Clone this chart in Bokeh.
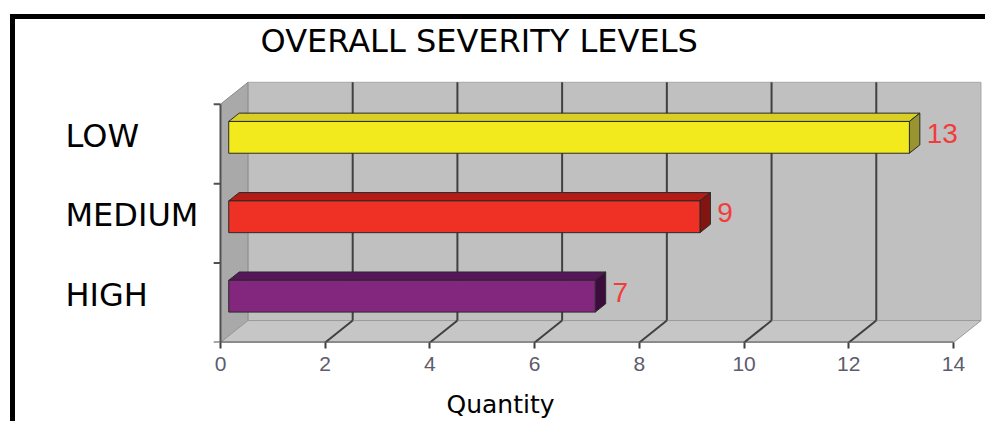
from bokeh.plotting import figure
from bokeh.models import Range1d, FixedTicker, ColumnDataSource
from bokeh.embed import file_html
from bokeh.resources import INLINE
from bokeh.core.properties import value

# ---------------- data ----------------
categories = ["HIGH", "MEDIUM", "LOW"]      # bottom to top
counts = [7, 9, 13]
x_ticks = [0, 2, 4, 6, 8, 10, 12, 14]
title_text = "OVERALL SEVERITY LEVELS"
x_title = "Quantity"

# ---------------- styles ----------------
front_colors = ["#82267e", "#ee3124", "#f2ea1c"]
top_colors = ["#58165a", "#b41c16", "#d8d022"]
side_colors = ["#3c0c3c", "#841410", "#9a9430"]
label_color = "#f23c3c"

X_MAX = x_ticks[-1]
N = len(categories)
DX, DY = 0.525, 0.276        # depth of the 3-D box in data units
F0, F1 = 0.30, 0.68          # bar front / back depth fraction
H = 0.20                     # half bar height (category units)

p = figure(width=970, height=402, output_backend="svg", toolbar_location=None,
           x_range=Range1d(-3.915, 14.611), y_range=Range1d(0, 3.5),
           min_border_left=0, min_border_right=0, min_border_top=44,
           min_border_bottom=79, tools="")
p.styles = {"margin-left": "15px", "margin-top": "19px",
            "box-shadow": "-5px 0px 0px 0px #000000, 0px -5px 0px 0px #000000, "
                          "-5px -5px 0px 0px #000000"}
p.outline_line_color = None
p.grid.visible = False
p.yaxis.visible = False
p.background_fill_color = "white"
p.border_fill_color = "white"

p.title.text = title_text
p.title.text_font = "DejaVu Sans"
p.title.text_font_size = "32px"
p.title.text_font_style = "normal"
p.title.text_color = "#000000"
p.title.align = "left"
p.title.vertical_align = "top"
p.title.offset = 245
p.title.standoff = 5

# walls
p.patch([DX, X_MAX + DX, X_MAX + DX, DX], [DY, DY, N + DY, N + DY],
        fill_color="#c0c0c0", line_color="#a8a8a8", line_width=1)
p.patch([0, DX, DX, 0], [0, DY, N + DY, N],
        fill_color="#a9a9a9", line_color="#8a8a8a", line_width=1)
p.patch([0, X_MAX, X_MAX + DX, DX], [0, 0, DY, DY],
        fill_color="#c6c6c6", line_color="#9a9a9a", line_width=1)

inner = [t for t in x_ticks if 0 < t < X_MAX]
p.segment(x0=[t + DX for t in inner], y0=DY, x1=[t + DX for t in inner], y1=N + DY,
          line_color="#404040", line_width=2)
p.segment(x0=inner, y0=0, x1=[t + DX for t in inner], y1=DY,
          line_color="#404040", line_width=2)
p.segment(x0=[0], y0=[0], x1=[X_MAX], y1=[0], line_color="#505050", line_width=2)
p.segment(x0=[0], y0=[0], x1=[0], y1=[N], line_color="#505050", line_width=2)
p.segment(x0=-0.13, y0=list(range(N + 1)), x1=0, y1=list(range(N + 1)),
          line_color="#505050", line_width=2)

# bars
a0, b0 = F0 * DX, F0 * DY
a1, b1 = F1 * DX, F1 * DY
fx, fy, tx, ty, sx, sy = [], [], [], [], [], []
for i, v in enumerate(counts):
    yc = i + 0.5
    lo, hi = yc - H, yc + H
    fx.append([a0, v + a0, v + a0, a0]); fy.append([lo + b0, lo + b0, hi + b0, hi + b0])
    tx.append([a0, v + a0, v + a1, a1]); ty.append([hi + b0, hi + b0, hi + b1, hi + b1])
    sx.append([v + a0, v + a1, v + a1, v + a0]); sy.append([lo + b0, lo + b1, hi + b1, hi + b0])

p.patches(tx, ty, fill_color=top_colors, line_color="#2a2a2a", line_width=1)
p.patches(sx, sy, fill_color=side_colors, line_color="#2a2a2a", line_width=1)
p.patches(fx, fy, fill_color=front_colors, line_color="#2a2a2a", line_width=1)

# value labels
lab = ColumnDataSource(dict(x=[v + a1 + 0.13 for v in counts],
                            y=[i + 0.5 + (b0 + b1) / 2 for i in range(N)],
                            t=[str(v) for v in counts]))
p.text(x="x", y="y", text="t", source=lab, text_font=value("Liberation Sans"),
       text_font_size="28px", text_color=label_color, text_baseline="middle",
       text_align="left")

# category labels
cat = ColumnDataSource(dict(x=[-2.96] * N, y=[i + 0.5 + 0.10 for i in range(N)],
                            t=categories))
p.text(x="x", y="y", text="t", source=cat, text_font=value("DejaVu Sans"),
       text_font_size="32px", text_color="#000000", text_baseline="middle",
       text_align="left")

# x axis
ax = p.xaxis[0]
ax.ticker = FixedTicker(ticks=x_ticks)
ax.axis_line_color = None
ax.major_tick_line_color = "#404040"
ax.major_tick_line_width = 2
ax.major_tick_out = 6
ax.major_tick_in = 0
ax.minor_tick_line_color = None
ax.major_label_standoff = 8
ax.major_label_text_font = "Liberation Sans"
ax.major_label_text_font_size = "21px"
ax.major_label_text_color = "#5c5c6c"
ax.axis_label = x_title
ax.axis_label_text_font = "DejaVu Sans"
ax.axis_label_text_font_size = "25px"
ax.axis_label_text_font_style = "normal"
ax.axis_label_text_color = "#000000"
ax.axis_label_standoff = 16

open("out.html", "w").write(file_html(p, INLINE))
